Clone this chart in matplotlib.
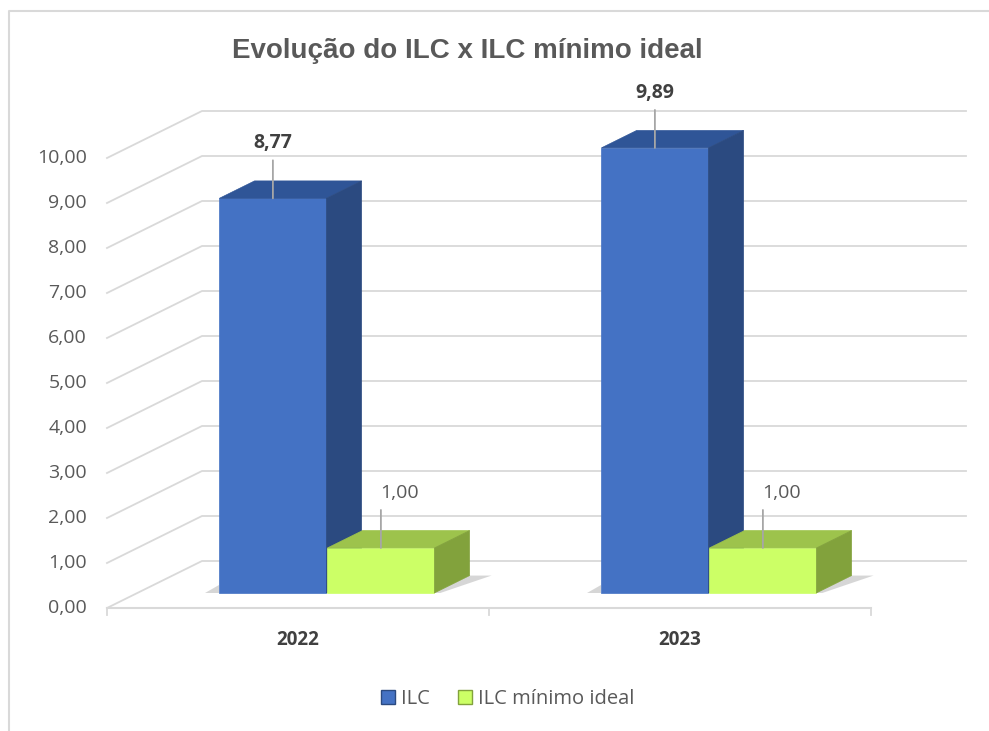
import matplotlib
matplotlib.use("Agg")
import matplotlib.pyplot as plt
from matplotlib.patches import Polygon, Patch
from matplotlib.lines import Line2D

years = ["2022", "2023"]
ilc = [8.77, 9.89]
ilc_min = [1.00, 1.00]
series_names = ["ILC", "ILC mínimo ideal"]
yticks = [0, 1, 2, 3, 4, 5, 6, 7, 8, 9, 10]

W, H = 989, 731
fig = plt.figure(figsize=(W / 100, H / 100), dpi=100)
plt.rcParams['font.family'] = ['Open Sans', 'DejaVu Sans']

# front plane of the 3d box in pixels
x0_px, x1_px = 107, 871
y0_px, y10_px = 608, 158
ax = fig.add_axes([x0_px / W, (H - y0_px) / H, (x1_px - x0_px) / W, (y0_px - y10_px) / H])
ax.set_xlim(0, 2)
ax.set_ylim(0, 10)
ax.axis("off")

# depth vector (front -> back wall) in data units
px_x = (x1_px - x0_px) / 2
px_y = (y0_px - y10_px) / 10
dX = 95 / px_x
dY = 47 / px_y

grid_c = "#D9D9D9"
# back wall + left wall gridlines
for v in yticks:
    ax.plot([0, dX, 2 + dX], [v, v + dY, v + dY], color=grid_c, lw=1.3,
            clip_on=False, zorder=1)
    ax.text(-20 / px_x, v, f"{v},00", ha="right", va="center",
            fontsize=14, color="#595959")

# front base line with ticks
ax.plot([0, 2], [0, 0], color=grid_c, lw=1.5, clip_on=False, zorder=1)
for i in range(3):
    ax.plot([i, i], [0, -7 / px_y], color=grid_c, lw=1.3, clip_on=False, zorder=1)

# bar geometry
f_front, f_back = 0.32, 0.69
bar_w = 107 / px_x
off = 82 / px_x
sx, sy = f_front * dX, f_front * dY
ddx, ddy = (f_back - f_front) * dX, (f_back - f_front) * dY

styles = [("#4472C4", "#2F5597", "#2B4A80"), ("#CCFF66", "#9DC34C", "#82A23C")]


def draw_box(xl, val, cols):
    front, top, side = cols
    xr = xl + bar_w
    b = sy
    # soft floor shadows
    ax.add_patch(Polygon([(xr, b), (xr + ddx, b + ddy), (xr + ddx + 22 / px_x, b + ddy),
                          (xr + 6 / px_x, b)], closed=True,
                         facecolor="#A6A6A6", edgecolor="none", alpha=0.45, zorder=2, clip_on=False))
    ax.add_patch(Polygon([(xl - 14 / px_x, b), (xl, b), (xl, b + 8 / px_y)], closed=True,
                         facecolor="#A6A6A6", edgecolor="none", alpha=0.45, zorder=2, clip_on=False))
    ax.bar(xl, val, width=bar_w, bottom=b, align="edge", color=front,
           edgecolor=front, lw=0.5, zorder=3, clip_on=False)
    ax.add_patch(Polygon([(xl, b + val), (xr, b + val), (xr + ddx, b + val + ddy), (xl + ddx, b + val + ddy)],
                         closed=True, facecolor=top, edgecolor=top, lw=0.5, zorder=3, clip_on=False))
    ax.add_patch(Polygon([(xr, b), (xr + ddx, b + ddy), (xr + ddx, b + val + ddy), (xr, b + val)],
                         closed=True, facecolor=side, edgecolor=side, lw=0.5, zorder=3, clip_on=False))


for i in range(len(years)):
    xl_blue = i + off + sx
    xl_green = xl_blue + bar_w + 1 / px_x
    draw_box(xl_blue, ilc[i], styles[0])
    draw_box(xl_green, ilc_min[i], styles[1])

    for xl, val, bold, dxp in [(xl_blue, ilc[i], True, 0), (xl_green, ilc_min[i], False, 19)]:
        xc = xl + bar_w / 2
        top = sy + val
        ax.annotate("", xy=(xc, top), xytext=(0, 38), textcoords="offset pixels",
                    arrowprops=dict(arrowstyle="-", color="#A6A6A6", lw=1.3,
                                    shrinkA=0, shrinkB=0), zorder=4, annotation_clip=False)
        ax.annotate(f"{val:.2f}".replace(".", ","), xy=(xc, top), xytext=(dxp, 55),
                    textcoords="offset pixels", ha="center", va="center",
                    fontsize=14, color="#404040" if bold else "#595959",
                    fontweight="bold" if bold else "normal", zorder=5, annotation_clip=False)

    ax.text(i + 0.5, -32 / px_y, years[i], ha="center", va="center",
            fontsize=13.5, fontweight="bold", color="#404040")

fig.text(467 / W, 1 - 51 / H, "Evolução do ILC x ILC mínimo ideal", ha="center", va="center",
         fontsize=20, fontweight="bold", color="#595959", family=["Liberation Sans", "DejaVu Sans"])

handles = [Patch(facecolor=styles[0][0], edgecolor=styles[0][2]),
           Patch(facecolor=styles[1][0], edgecolor=styles[1][2])]
fig.legend(handles, series_names, loc="center", bbox_to_anchor=(508 / W, 1 - 699 / H),
           ncol=2, frameon=False, fontsize=14.5, labelcolor="#595959",
           handlelength=0.7, handleheight=0.7, handletextpad=0.3, columnspacing=1.4)

# chart border
fig.add_artist(Line2D([9 / W, 9 / W, 1], [0, 1 - 11 / H, 1 - 11 / H], color="#D9D9D9", lw=1.5))

fig.savefig("out.png", dpi=100)
